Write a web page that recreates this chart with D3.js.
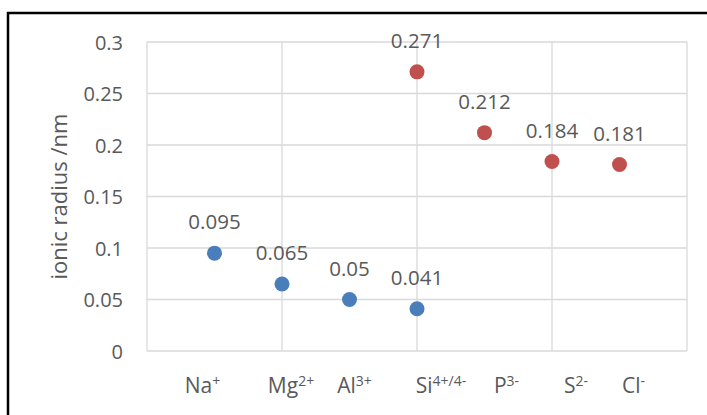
<!DOCTYPE html>
<html><head><meta charset="utf-8">
<script src="https://cdn.jsdelivr.net/npm/d3@7"></script>
<style>
html,body{margin:0;padding:0;background:#fff;}
svg text{font-family:"Open Sans",sans-serif;fill:#595959;}
</style></head>
<body><svg id="c" width="707" height="415"></svg>
<script>
const ions = ["Na","Mg","Al","Si","P","S","Cl"];
const charges = ["+","2+","3+","4+/4-","3-","2-","-"];
const cationX = [1,2,3,4];
const cationR = [0.095,0.065,0.05,0.041];
const anionX = [4,5,6,7];
const anionR = [0.271,0.212,0.184,0.181];
const yTicks = [0,0.05,0.1,0.15,0.2,0.25,0.3];
const xGrid = [0,2,4,6,8];
const labelDx = [-12,9,5,24,22,24,14];

const svg = d3.select("#c");
svg.append("rect").attr("x",8).attr("y",13).attr("width",710).attr("height",420)
  .attr("fill","#fff").attr("stroke","#000").attr("stroke-width",2.5);

const x = d3.scaleLinear().domain([0,8]).range([147,687]);
const y = d3.scaleLinear().domain([0,0.3]).range([351,42]);

const g = svg.append("g");
g.selectAll(".hg").data(yTicks).join("line")
  .attr("x1",x(0)).attr("x2",x(8)).attr("y1",d=>y(d)).attr("y2",d=>y(d))
  .attr("stroke","#d9d9d9").attr("stroke-width",1.3);
g.selectAll(".vg").data(xGrid).join("line")
  .attr("y1",y(0)).attr("y2",y(0.3)).attr("x1",d=>x(d)).attr("x2",d=>x(d))
  .attr("stroke","#d9d9d9").attr("stroke-width",1.3);

const yAxis = d3.axisLeft(y).tickValues(yTicks).tickSize(0).tickPadding(0)
  .tickFormat(d=>String(+d.toFixed(2)));
const ya = svg.append("g").attr("transform","translate(123,0)").call(yAxis);
ya.select(".domain").remove();
ya.selectAll("text").attr("font-size",20).attr("fill","#595959")
  .attr("font-family","Open Sans").attr("dy","0.35em");

svg.append("text").attr("transform",`translate(67,${(y(0)+y(0.3))/2}) rotate(-90)`)
  .attr("text-anchor","middle").attr("font-size",22).text("ionic radius /nm");

const cl = svg.append("g");
ions.forEach((ion,i)=>{
  const t = cl.append("text").attr("x",x(i+1)+labelDx[i]).attr("y",393)
    .attr("text-anchor","middle").attr("font-size",21);
  t.append("tspan").text(ion);
  t.append("tspan").attr("font-size",14).attr("dy",-7).text(charges[i]);
});

function series(xs,vals,color){
  const data = xs.map((d,i)=>({x:d,v:vals[i]}));
  svg.append("g").selectAll("circle").data(data).join("circle")
    .attr("cx",d=>x(d.x)).attr("cy",d=>y(d.v)).attr("r",7.5).attr("fill",color);
  svg.append("g").selectAll("text").data(data).join("text")
    .attr("x",d=>x(d.x)).attr("y",d=>y(d.v)-31).attr("dy","0.35em")
    .attr("text-anchor","middle").attr("font-size",20.5).text(d=>d.v);
}
series(cationX,cationR,"#4a7ebb");
series(anionX,anionR,"#c0504d");
</script></body></html>
